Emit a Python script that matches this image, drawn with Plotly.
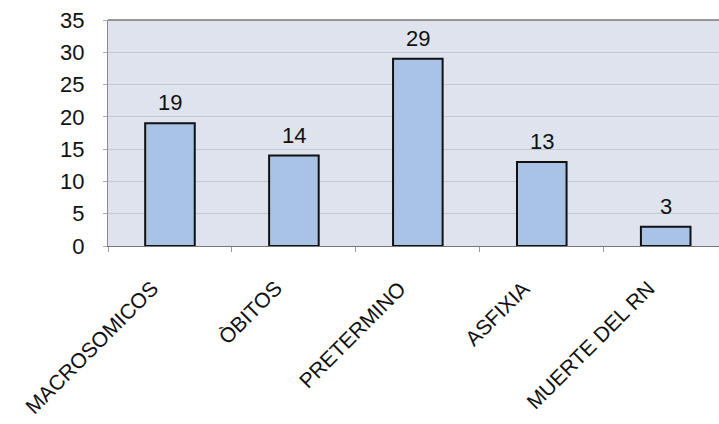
import plotly.graph_objects as go

categories = ["MACROSOMICOS", "ÒBITOS", "PRETERMINO", "ASFIXIA", "MUERTE DEL RN"]
values = [19, 14, 29, 13, 3]
y_ticks = [0, 5, 10, 15, 20, 25, 30, 35]

FONT = "Liberation Sans, Arial"

fig = go.Figure(
    go.Bar(
        x=categories,
        y=values,
        width=0.4,
        marker=dict(color="#a9c3e6", line=dict(color="#111111", width=2)),
        cliponaxis=False,
    )
)

# value labels above each bar
for cat, v in zip(categories, values):
    fig.add_annotation(
        x=cat, y=v, text=str(v), showarrow=False, yanchor="bottom", yshift=6,
        font=dict(family=FONT, size=22, color="#111111"),
    )

# slanted category labels under the axis
for cat in categories:
    fig.add_annotation(
        x=cat, xref="x", y=0, yref="paper", text=cat, showarrow=False,
        textangle=-45, xanchor="right", yanchor="top", xshift=-5, yshift=-28,
        font=dict(family=FONT, size=21, color="#111111"),
    )

fig.update_layout(
    width=719,
    height=424,
    margin=dict(l=108, r=0, t=20, b=178),
    paper_bgcolor="white",
    plot_bgcolor="#dee3ee",
    showlegend=False,
    font=dict(family=FONT, color="#111111"),
)

fig.update_xaxes(
    range=[-0.5, 4.43],
    showticklabels=False,
    showline=True,
    linecolor="#777777",
    ticks="outside",
    ticklen=5,
    tickcolor="#999999",
    tickson="boundaries",
    showgrid=False,
)

fig.update_yaxes(
    range=[0, 35],
    tickvals=y_ticks,
    tickfont=dict(size=22),
    ticklabelstandoff=14,
    showgrid=True,
    gridcolor="#c5c8d0",
    gridwidth=1,
    showline=True,
    linecolor="#888888",
    mirror=False,
    ticks="outside",
    ticklen=4,
    tickcolor="#aaaaaa",
    zeroline=False,
)

# darker frame line along the top of the plot area
fig.add_shape(type="line", xref="paper", yref="paper", x0=0, x1=1, y0=1, y1=1,
              line=dict(color="#777777", width=1.5))

fig.write_html("out.html")
